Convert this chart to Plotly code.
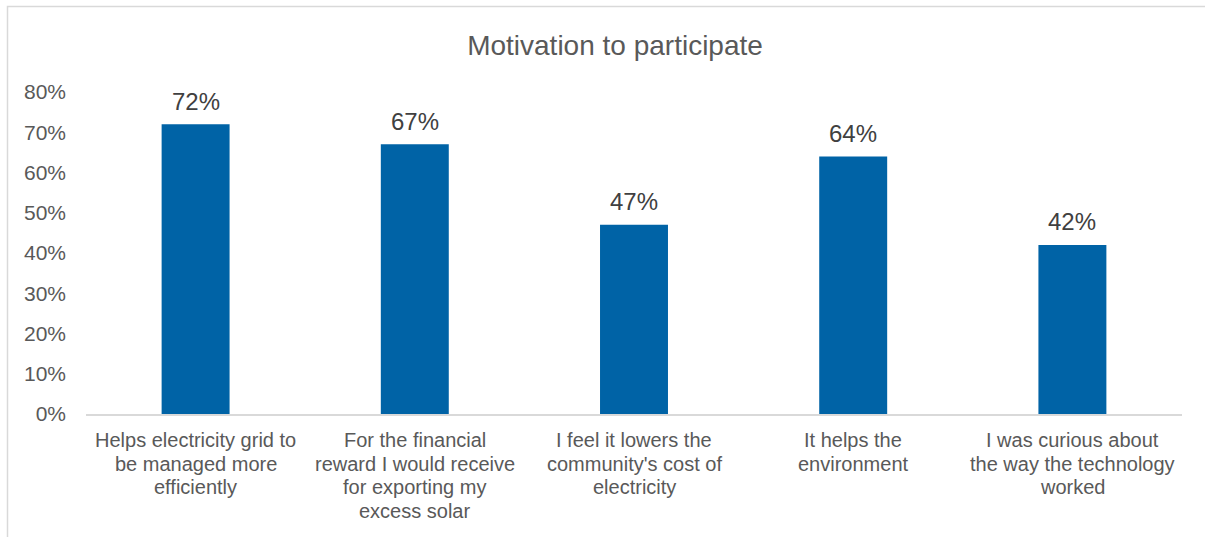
import plotly.graph_objects as go

# Survey results: share of respondents citing each motivation
categories = [
    "Helps electricity grid to<br>be managed more<br>efficiently",
    "For the financial<br>reward I would receive<br>for exporting my<br>excess solar",
    "I feel it lowers the<br>community's cost of<br>electricity",
    "It helps the<br>environment",
    "I was curious about<br>the way the technology<br>worked",
]
shares = [0.72, 0.67, 0.47, 0.64, 0.42]
y_ticks = [0, 0.1, 0.2, 0.3, 0.4, 0.5, 0.6, 0.7, 0.8]
y_tick_labels = ["0%", "10%", "20%", "30%", "40%", "50%", "60%", "70%", "80%"]

W, H = 1205, 537
L, R, T, B = 86, 23, 92, 123
TEXT = "#595959"
LABEL = "#404040"
FONT = "Liberation Sans, Arial, sans-serif"

fig = go.Figure(
    go.Bar(
        x=categories,
        y=shares,
        marker=dict(color="#0063A6", line=dict(width=0)),
        hoverinfo="x+y",
    )
)

# Value labels above each bar
for cat, v in zip(categories, shares):
    fig.add_annotation(
        x=cat, y=v, xref="x", yref="y",
        text=f"{v:.0%}", showarrow=False,
        yshift=23, yanchor="middle",
        font=dict(size=24, color=LABEL, family=FONT),
    )

# Category labels under the axis, one line at a time for tighter spacing
LINE_GAP = 23.5
for cat in categories:
    for j, line in enumerate(cat.split("<br>")):
        fig.add_annotation(
            x=cat, y=0, xref="x", yref="paper",
            text=line, showarrow=False,
            yshift=-(26 + j * LINE_GAP), yanchor="middle",
            font=dict(size=20, color=TEXT, family=FONT),
        )

# Chart-area frame, expressed in plot-area (paper) fractions
pw, ph = W - L - R, H - T - B
def px_x(px):
    return (px - L) / pw
def px_y(py):
    return (H - B - py) / ph

fig.add_shape(
    type="rect", xref="paper", yref="paper",
    x0=px_x(7.5), x1=px_x(1260), y0=px_y(6.5), y1=px_y(600),
    line=dict(color="#d9d9d9", width=1.5), fillcolor="rgba(0,0,0,0)", layer="below",
)

fig.update_layout(
    width=W, height=H,
    margin=dict(l=L, r=R, t=T, b=B),
    paper_bgcolor="white", plot_bgcolor="white",
    bargap=0.69,
    showlegend=False,
    font=dict(family=FONT, color=TEXT, size=20),
    title=dict(
        text="Motivation to participate",
        font=dict(size=28, color=TEXT, family=FONT),
        xref="container", x=615 / W, xanchor="center",
        yref="container", y=1 - 45 / H, yanchor="middle",
    ),
    xaxis=dict(
        showgrid=False, showline=True, linecolor="#d9d9d9", linewidth=1.5,
        ticks="", showticklabels=False,
    ),
    yaxis=dict(
        range=[0, 0.8], tickvals=y_ticks, ticktext=y_tick_labels,
        showgrid=False, zeroline=False, showline=False,
        ticks="", ticklabelstandoff=19,
        tickfont=dict(size=21, color=TEXT, family=FONT),
    ),
)

fig.write_html("out.html")
